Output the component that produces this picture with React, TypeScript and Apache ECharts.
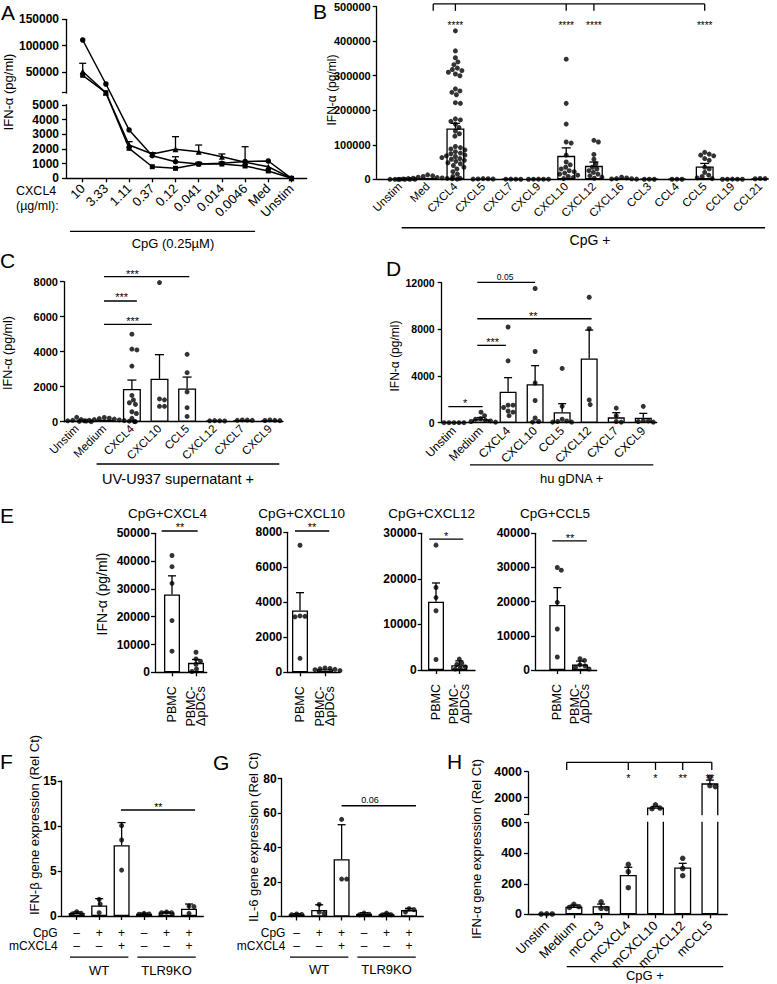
import React, { useEffect, useRef } from 'react';
import * as echarts from 'echarts';

const FONT = '"Liberation Sans", Arial, Helvetica, sans-serif';
const INK = '#000000';
const LW = 1.3;

// ---------------- Panel A ----------------
const aCats = ['10', '3.33', '1.11', '0.37', '0.12', '0.041', '0.014', '0.0046', 'Med', 'Unstim'];
const aDonor1 = [110700, 27200, 3300, 1540, 1130, 975, 1020, 1150, 1180, 0];
const aDonor2 = [51000, 10700, 2270, 1660, 1980, 1815, 1475, 1100, 790, 0];
const aDonor3 = [43700, 10700, 2045, 790, 680, 975, 970, 840, 500, 0];
const aErr1 = [null, null, null, null, 1470, 1080, 1100, null, null, null];
const aErr2 = [66500, null, 2500, 1750, 2840, 2270, 1660, 2155, null, null];
const aYLabels = [0, 1000, 2000, 3000, 4000, 5000, 50000, 100000, 150000];

// ---------------- Panel B ----------------
const bCats = ['Unstim', 'Med', 'CXCL4', 'CXCL5', 'CXCL7', 'CXCL9', 'CXCL10', 'CXCL12', 'CXCL16', 'CCL3', 'CCL4', 'CCL5', 'CCL19', 'CCL21'];
const bMeans = [200, 4000, 147000, 1100, 350, 330, 68000, 39000, 2500, 200, 200, 37000, 300, 1700];
const bErrTop = [null, null, 162000, null, null, null, 91000, 50000, null, null, null, 46000, null, null];
const bDots = [
  [0, 0, 0, 0, 0, 0],
  [13000, 10000, 8000, 6000, 5000, 4000, 3000, 2500, 2000, 1500, 1000, 500, 0],
  [430000, 372000, 352000, 340000, 332000, 322000, 318000, 315000, 310000, 305000, 300000, 262000, 256000, 252000, 245000, 222000, 220000, 175000, 172000, 168000, 160000, 150000, 140000, 132000, 125000, 95000, 92000, 88000, 85000, 80000, 76000, 74000, 70000, 68000, 66000, 63000, 60000, 58000, 55000, 52000, 48000, 45000, 40000, 35000, 30000, 22000, 15000, 8000, 3000],
  [2000, 1500, 1000, 800, 500],
  [500, 400, 300, 200],
  [500, 400, 300, 300, 200],
  [348000, 220000, 160000, 108000, 105000, 70000, 50000, 42000, 35000, 30000, 25000, 22000, 18000, 15000, 12000, 8000, 5000, 2000],
  [113000, 108000, 72000, 58000, 45000, 35000, 30000, 25000, 20000, 15000, 10000, 6000, 3000],
  [6000, 4000, 2000, 1500, 1000, 500],
  [300, 200, 100],
  [300, 200, 100],
  [78000, 73000, 70000, 68000, 60000, 55000, 35000, 30000, 20000, 12000, 8000, 4000, 2000],
  [500, 400, 300, 200, 100],
  [2500, 2000, 1500, 1000],
];

// ---------------- Panel C ----------------
const cCats = ['Unstim', 'Medium', 'CXCL4', 'CXCL10', 'CCL5', 'CXCL12', 'CXCL7', 'CXCL9'];
const cMeans = [70, 110, 1870, 2450, 1900, 50, 90, 80];
const cErrTop = [null, null, 2380, 3830, 2550, null, null, null];
const cDots = [
  [250, 120, 80, 50, 20, 0, 0, 40],
  [240, 200, 180, 150, 120, 100, 80, 60, 50, 30, 20, 10],
  [5000, 4150, 4100, 3180, 1500, 1240, 1085, 990, 570, 470, 190, 0],
  [7950, 1300, 1250, 880, 880],
  [3850, 2800, 1700, 800, 300],
  [60, 50, 50, 40],
  [100, 90, 80, 80],
  [100, 80, 70, 60],
];

// ---------------- Panel D ----------------
const dCats = ['Unstim', 'Medium', 'CXCL4', 'CXCL10', 'CCL5', 'CXCL12', 'CXCL7', 'CXCL9'];
const dMeans = [0, 290, 2650, 3290, 890, 5510, 460, 430];
const dErrTop = [null, 440, 3860, 4890, 1630, 7940, 860, 800];
const dDots = [
  [0, 0, 0, 0, 0],
  [900, 600, 350, 300, 200, 150, 100, 50],
  [8200, 5300, 1500, 1500, 1300, 1000, 900, 600],
  [11500, 6100, 3400, 1900, 400, 100, 50],
  [4650, 1400, 300, 150, 100, 50, 50],
  [10750, 8050, 1950, 1550],
  [1250, 600, 100, 50],
  [1400, 200, 150, 100, 50],
];

// ---------------- Panel E ----------------
const eCats = ['PBMC', 'PBMC-\nΔpDCs'];
const eTitles = ['CpG+CXCL4', 'CpG+CXCL10', 'CpG+CXCL12', 'CpG+CCL5'];
const e1Means = [28000, 3400];
const e1ErrTop = [34700, 4600];
const e1Dots = [[42000, 38000, 32000, 18600, 7600], [7200, 4800, 4000, 2900, 1200, 300]];
const e2Means = [3530, 180];
const e2ErrTop = [4550, null];
const e2Dots = [[7260, 3220, 3200, 3170, 800], [250, 220, 200, 170, 150, 100]];
const e3Means = [15000, 1050];
const e3ErrTop = [19100, 2000];
const e3Dots = [[27400, 18100, 15900, 13000, 2300], [2400, 1500, 1200, 700, 400, 200]];
const e4Means = [19000, 1600];
const e4ErrTop = [24100, 2600];
const e4Dots = [[30000, 29200, 19800, 12000, 3800], [3300, 2800, 1500, 1200, 800, 300]];

// ---------------- Panels F / G ----------------
const cpgSigns = ['–', '+', '+', '–', '+', '+'];
const mcxcl4Signs = ['–', '–', '+', '–', '–', '+'];
const fMeans = [0.33, 1.18, 7.86, 0.24, 0.4, 0.81];
const fErrTop = [0.45, 1.93, 10.38, 0.32, 0.45, 1.33];
const fDots = [[0.3, 0.48, 0.22], [1.85, 1.33, 0.37], [10.04, 8.44, 5.1], [0.19, 0.3, 0.22], [0.37, 0.44, 0.37], [1.1, 1.04, 0.3]];
const gMeans = [1.2, 3.8, 33.2, 1.5, 1.3, 3.7];
const gErrTop = [1.6, 6.8, 53.2, 2.2, 1.9, 4.7];
const gDots = [[1.5, 1.2, 1.0], [7.0, 2.5, 1.8], [56.3, 21.7, 21.7], [2.0, 1.3, 1.0], [2.0, 1.0, 0.9], [4.5, 4.0, 2.6]];

// ---------------- Panel H ----------------
const hCats = ['Unstim', 'Medium', 'mCCL3', 'mCXCL4', 'mCXCL10', 'mCXCL12', 'mCCL5'];
const hMeans = [2, 50, 53, 258, 1250, 307, 3100];
const hErrTop = [null, 60, 67, 308, 1330, 334, 3350];
const hDots = [[3, 2, 2], [65, 50, 45], [82, 39, 37], [327, 279, 174], [1450, 1200, 1150], [367, 300, 253], [3570, 2920, 2850]];
const hYLabels = [0, 200, 400, 600, 2000, 4000];

// ---------------- helpers ----------------
function makeBreak(lowMax: number, lowH: number, gapH: number, upMin: number, upScale: number) {
  return (v: number) =>
    v <= lowMax
      ? (v / lowMax) * lowH
      : v < upMin
      ? lowH + ((v - lowMax) / (upMin - lowMax)) * gapH
      : lowH + gapH + (v - upMin) * upScale;
}

const tfA = makeBreak(5000, 73.3, 12.3, 10700, 52.7 / 100000);
const tfH = makeBreak(600, 91.6, 8.4, 720, 26 / 2000);

// simple beeswarm: spreads overlapping dots sideways (pixel space)
function swarm(vals: number[], cat: number, pxPerUnit: number, pxPerCat: number, dot: number, tf: (v: number) => number) {
  const placed: number[][] = [];
  const res: number[][] = [];
  const order = vals.map((_, i) => i).sort((a, b) => vals[b] - vals[a]);
  for (const i of order) {
    const yv = tf(vals[i]);
    const py = yv * pxPerUnit;
    let off = 0;
    for (let k = 0; k < 140; k++) {
      const cand = k === 0 ? 0 : (k % 2 ? 1 : -1) * Math.ceil(k / 2) * 0.5;
      if (placed.every(([qx, qy]) => Math.hypot(qx - cand, qy - py) >= dot)) {
        off = cand;
        break;
      }
    }
    placed.push([off, py]);
    res.push([cat + off / pxPerCat, yv]);
  }
  return res;
}

type Annot = any;
const L = (x1: number, y1: number, x2: number, y2: number): Annot => ({ t: 'l', x1, y1, x2, y2 });
const S = (x: number, y: number, text: string, size: number, align = 'center'): Annot => ({ t: 's', x, y, text, size, align });
const GAP = (lo: number, hi: number, full: boolean): Annot => ({ t: 'gap', lo, hi, full });

function annotSeries(i: number, annots: Annot[], xMin: number, xMax: number) {
  return {
    type: 'custom',
    xAxisIndex: i,
    yAxisIndex: i,
    z: 6,
    silent: true,
    clip: false,
    data: annots.map(() => [0, 0]),
    renderItem: (params: any, api: any) => {
      const a = annots[params.dataIndex];
      if (a.t === 'l') {
        const p1 = api.coord([a.x1, a.y1]);
        const p2 = api.coord([a.x2, a.y2]);
        return { type: 'line', shape: { x1: p1[0], y1: p1[1], x2: p2[0], y2: p2[1] }, style: { stroke: INK, lineWidth: LW } };
      }
      if (a.t === 's') {
        const p = api.coord([a.x, a.y]);
        const star = /^\*+$/.test(a.text);
        return {
          type: 'text',
          x: p[0],
          y: p[1] + (star ? a.size * 0.22 : 0),
          style: {
            text: a.text,
            fill: INK,
            font: `${a.size}px ${FONT}`,
            align: a.align,
            textAlign: a.align,
            verticalAlign: 'middle',
            textVerticalAlign: 'middle',
          },
        };
      }
      if (a.t === 'gap') {
        const pLo = api.coord([xMin, a.lo]);
        const pHi = api.coord([xMax, a.hi]);
        const x0 = a.full ? pLo[0] - 7 : pLo[0] - 2.5;
        const x1 = a.full ? pHi[0] + 2 : pLo[0] + 2.5;
        return { type: 'rect', shape: { x: x0, y: pHi[1], width: x1 - x0, height: pLo[1] - pHi[1] }, style: { fill: '#ffffff' } };
      }
      return null;
    },
  };
}

function errSeries(i: number, items: number[][], capW: number, z = 3) {
  return {
    type: 'custom',
    xAxisIndex: i,
    yAxisIndex: i,
    z,
    silent: true,
    clip: false,
    encode: { x: 0, y: [1, 2] },
    data: items,
    renderItem: (params: any, api: any) => {
      const x = api.value(0);
      const a = api.coord([x, api.value(1)]);
      const b = api.coord([x, api.value(2)]);
      const hw = capW / 2;
      return {
        type: 'group',
        children: [
          { type: 'line', shape: { x1: a[0], y1: a[1], x2: b[0], y2: b[1] }, style: { stroke: INK, lineWidth: LW } },
          { type: 'line', shape: { x1: b[0] - hw, y1: b[1], x2: b[0] + hw, y2: b[1] }, style: { stroke: INK, lineWidth: LW } },
        ],
      };
    },
  };
}

function axesFor(i: number, p: any) {
  const tf = p.tf || ((v: number) => v);
  const xMin = (p.left - p.c0) / p.step;
  const xMax = (p.right - p.c0) / p.step;
  const yMaxD = tf(p.yMax);
  const top = p.tf ? p.bottom - yMaxD : p.top;
  const height = p.bottom - top;
  const line = { color: INK, width: LW };
  const idxs = Array.from({ length: p.n }, (_, k) => k);
  const grid = { left: p.left, top, width: p.right - p.left, height, containLabel: false, outerBoundsMode: 'none' };
  const xAxis = {
    type: 'value',
    gridIndex: i,
    min: xMin,
    max: xMax,
    axisLine: { show: true, onZero: false, lineStyle: line },
    axisTick: { show: !!p.xTicks, length: 4, customValues: idxs, lineStyle: line },
    axisLabel: p.cats
      ? {
          show: true,
          customValues: idxs,
          formatter: (v: number) => p.cats[Math.round(v)] ?? '',
          rotate: p.rotate,
          fontSize: p.xSize,
          margin: p.xMargin,
          color: INK,
          fontFamily: FONT,
          hideOverlap: false,
          lineHeight: p.xLineHeight || undefined,
        }
      : { show: false },
    splitLine: { show: false },
  };
  const yLabelVals = p.yLabels ? p.yLabels.map(tf) : null;
  const yAxis: any = {
    type: 'value',
    gridIndex: i,
    min: 0,
    max: yMaxD,
    axisLine: { show: true, onZero: false, lineStyle: line },
    axisTick: { show: true, length: 4, lineStyle: line },
    axisLabel: {
      fontSize: p.ySize,
      fontWeight: 'bold',
      color: INK,
      fontFamily: FONT,
      margin: p.yMargin,
      hideOverlap: false,
      formatter: (v: number) => String(Math.round(v * 1000) / 1000),
    },
    splitLine: { show: false },
  };
  if (p.tf) {
    yAxis.axisTick.customValues = [...yLabelVals, ...(p.yTickExtra || [])];
    yAxis.axisLabel.customValues = yLabelVals;
    yAxis.axisLabel.formatter = (v: number) => {
      const h = p.yLabels.find((l: number) => Math.abs(tf(l) - v) < 0.05);
      return h == null ? '' : String(h);
    };
  } else {
    yAxis.interval = p.yInterval;
  }
  return { grid, xAxis, yAxis, xMin, xMax, pxPerUnit: height / yMaxD, tf };
}

function barPanel(i: number, p: any) {
  const ax = axesFor(i, { ...p, n: p.means.length });
  const tf = ax.tf;
  const series: any[] = [];
  series.push({
    type: 'bar',
    xAxisIndex: i,
    yAxisIndex: i,
    silent: true,
    z: 2,
    barWidth: p.barW,
    data: p.means.map((m: number, k: number) => [k, tf(m)]),
    itemStyle: { color: '#ffffff', borderColor: INK, borderWidth: LW },
  });
  const errItems: number[][] = [];
  p.errTop.forEach((e: number | null, k: number) => {
    if (e != null) errItems.push([k, tf(p.means[k]), tf(e)]);
  });
  series.push(errSeries(i, errItems, p.capW));
  const dots: number[][] = [];
  p.dots.forEach((vals: number[], k: number) => {
    swarm(vals, k, ax.pxPerUnit, p.step, p.dot * 0.95, tf).forEach((d) => dots.push(d));
  });
  series.push({
    type: 'scatter',
    xAxisIndex: i,
    yAxisIndex: i,
    silent: true,
    z: 4,
    symbol: 'circle',
    symbolSize: p.dot,
    itemStyle: { color: INK },
    data: dots,
  });
  series.push(annotSeries(i, p.annots, ax.xMin, ax.xMax));
  return { grid: ax.grid, xAxis: ax.xAxis, yAxis: ax.yAxis, series };
}

function buildOption() {
  const grids: any[] = [];
  const xAxes: any[] = [];
  const yAxes: any[] = [];
  const series: any[] = [];
  const add = (r: any) => {
    grids.push(r.grid);
    xAxes.push(r.xAxis);
    yAxes.push(r.yAxis);
    r.series.forEach((s: any) => series.push(s));
  };

  // ---- A (line panel, broken axis) ----
  {
    const i = 0;
    const p = {
      left: 66, right: 306.7, bottom: 178.3, c0: 82.7, step: 23.2, yMax: 150000, tf: tfA,
      yLabels: aYLabels, yTickExtra: [tfA(10700)], cats: aCats, xTicks: true, rotate: 45, xSize: 13, xMargin: 8,
      ySize: 12, yMargin: 7, n: aCats.length,
    };
    const ax = axesFor(i, p);
    const mk = (vals: number[], symbol: string, size: number) => ({
      type: 'line',
      xAxisIndex: i,
      yAxisIndex: i,
      silent: true,
      z: 3,
      clip: false,
      symbol,
      symbolSize: size,
      showAllSymbol: true,
      data: vals.map((v, k) => [k, tfA(v)]),
      lineStyle: { color: INK, width: 1.5 },
      itemStyle: { color: INK },
    });
    const errItems: number[][] = [];
    aErr1.forEach((e, k) => { if (e != null) errItems.push([k, tfA(aDonor1[k]), tfA(e)]); });
    aErr2.forEach((e, k) => { if (e != null) errItems.push([k, tfA(aDonor2[k]), tfA(e)]); });
    add({
      grid: ax.grid,
      xAxis: ax.xAxis,
      yAxis: ax.yAxis,
      series: [
        mk(aDonor1, 'circle', 5.5),
        mk(aDonor2, 'triangle', 6),
        mk(aDonor3, 'rect', 5),
        errSeries(i, errItems, 7),
        annotSeries(i, [
          L(-0.547, -53, 7.43, -53),
          S(3.89, -64.7, 'CpG (0.25µM)', 13),
          GAP(73.3 + 0.9, 85.6 - 0.9, false),
        ], ax.xMin, ax.xMax),
      ],
    });
  }

  // ---- B ----
  const bBr = 508000, bTk = 488000, bSt = 452000;
  add(barPanel(1, {
    left: 376.7, right: 766.7, top: 6.7, bottom: 179.3, c0: 400, step: 27.7, yMax: 500000, yInterval: 100000,
    cats: bCats, xTicks: false, rotate: 45, xSize: 11.5, xMargin: 5, ySize: 11, yMargin: 6,
    means: bMeans, errTop: bErrTop, dots: bDots, barW: 18, capW: 9, dot: 5,
    annots: [
      L(1.2, bBr, 11, bBr), L(1.2, bBr, 1.2, bTk), L(2, bBr, 2, bTk), L(6, bBr, 6, bTk), L(7, bBr, 7, bTk), L(11, bBr, 11, bTk),
      S(2, bSt, '****', 10), S(6, bSt, '****', 10), S(7, bSt, '****', 10), S(11, bSt, '****', 10),
      L(0.06, -140290, 13.18, -140290), S(6.86, -175900, 'CpG +', 14),
    ],
  }));

  // ---- C ----
  add(barPanel(2, {
    left: 64, right: 283, top: 281.7, bottom: 421.7, c0: 76.7, step: 27.6, yMax: 8000, yInterval: 2000,
    cats: cCats, xTicks: false, rotate: 45, xSize: 11.5, xMargin: 5, ySize: 11, yMargin: 6,
    means: cMeans, errTop: cErrTop, dots: cDots, barW: 18, capW: 9, dot: 5,
    annots: [
      L(0.99, 8286, 4.08, 8286), S(2.02, 8571, '***', 11),
      L(0.99, 6897, 2.18, 6897), S(1.63, 7240, '***', 11),
      L(0.99, 5566, 2.72, 5566), S(2.03, 5869, '***', 11),
      L(0.72, -2417, 7.34, -2417), S(3.67, -3274, 'UV-U937 supernatant +', 14.5),
    ],
  }));

  // ---- D ----
  add(barPanel(3, {
    left: 441.7, right: 656.7, top: 282.7, bottom: 422.7, c0: 454, step: 27.04, yMax: 12000, yInterval: 4000,
    cats: dCats, xTicks: false, rotate: 45, xSize: 12, xMargin: 6, ySize: 10.5, yMargin: 7,
    means: dMeans, errTop: dErrTop, dots: dDots, barW: 17, capW: 8, dot: 5,
    annots: [
      L(0.86, 12026, 3.0, 12026), S(1.89, 12505, '0.05', 8.5),
      L(0.86, 8908, 5.09, 8908), S(2.93, 9370, '**', 11),
      L(0.86, 6630, 1.92, 6630), S(1.43, 7143, '***', 11),
      L(-0.21, 1370, 1.06, 1370), S(0.41, 1884, '*', 11),
      L(0.59, -3623, 7.37, -3623), S(4.35, -4762, 'hu gDNA +', 13),
    ],
  }));

  // ---- E ----
  const eCommon = { cats: eCats, xTicks: true, rotate: 90, xSize: 12.5, xMargin: 14, xLineHeight: 10.5, ySize: 12, yMargin: 5, barW: 16, capW: 8, dot: 5 };
  add(barPanel(4, {
    ...eCommon, left: 155, right: 206.7, top: 533.3, bottom: 672.3, c0: 172, step: 24, yMax: 50000, yInterval: 10000,
    means: e1Means, errTop: e1ErrTop, dots: e1Dots,
    annots: [L(-0.43, 50827, 1.07, 50827), S(0.33, 52985, '**', 11)],
  }));
  add(barPanel(5, {
    ...eCommon, left: 287.3, right: 340, top: 532.3, bottom: 672.3, c0: 300, step: 25, yMax: 8000, yInterval: 2000,
    means: e2Means, errTop: e2ErrTop, dots: e2Dots,
    annots: [L(-0.2, 8074, 1.17, 8074), S(0.48, 8417, '**', 11)],
  }));
  add(barPanel(6, {
    ...eCommon, left: 421.7, right: 475, top: 533.3, bottom: 670, c0: 436, step: 23.3, yMax: 30000, yInterval: 10000,
    means: e3Means, errTop: e3ErrTop, dots: e3Dots,
    annots: [L(-0.29, 28725, 1.17, 28725), S(0.43, 30044, '*', 11)],
  }));
  add(barPanel(7, {
    ...eCommon, left: 535, right: 596.7, top: 533.3, bottom: 670, c0: 557.3, step: 22.7, yMax: 40000, yInterval: 10000,
    means: e4Means, errTop: e4ErrTop, dots: e4Dots,
    annots: [L(-0.22, 37807, 1.3, 37807), S(0.56, 39474, '**', 11)],
  }));

  // ---- F ----
  const rowAnnots = (rowY: number[], labelX: number) => {
    const out: Annot[] = [S(labelX, rowY[0], 'CpG', 12, 'right'), S(labelX, rowY[1], 'mCXCL4', 12, 'right')];
    cpgSigns.forEach((s, k) => out.push(S(k, rowY[0], s, 12)));
    mcxcl4Signs.forEach((s, k) => out.push(S(k, rowY[1], s, 12)));
    out.push(L(-0.3, rowY[2], 2.3, rowY[2]), L(2.7, rowY[2], 5.3, rowY[2]));
    out.push(S(1, rowY[3], 'WT', 13), S(4, rowY[3], 'TLR9KO', 13));
    return out;
  };
  add(barPanel(8, {
    left: 61.7, right: 203.3, top: 781, bottom: 916, c0: 76.7, step: 22.46, yMax: 15, yInterval: 5,
    cats: null, xTicks: true, ySize: 12, yMargin: 5, means: fMeans, errTop: fErrTop, dots: fDots, barW: 16, capW: 8, dot: 5,
    annots: [L(1.97, 11.78, 5.27, 11.78), S(3.63, 12.33, '**', 10.5), ...rowAnnots([-1.89, -3.33, -4.56, -6.0], -0.85)],
  }));

  // ---- G ----
  add(barPanel(9, {
    left: 281.7, right: 423.3, top: 778.5, bottom: 916.5, c0: 296.7, step: 22.46, yMax: 80, yInterval: 20,
    cats: null, xTicks: true, ySize: 12, yMargin: 5, means: gMeans, errTop: gErrTop, dots: gDots, barW: 16, capW: 8, dot: 5,
    annots: [L(2.0, 64.2, 5.31, 64.2), S(3.26, 67.5, '0.06', 9), ...rowAnnots([-9.57, -17.1, -23.5, -31.0], -0.5)],
  }));

  // ---- H (broken axis) ----
  add(barPanel(10, {
    left: 528, right: 727.3, bottom: 914.3, c0: 546.7, step: 27.2, yMax: 4000, tf: tfH, yLabels: hYLabels, yTickExtra: [tfH(720)],
    cats: hCats, xTicks: true, rotate: 45, xSize: 13, xMargin: 9, ySize: 12.5, yMargin: 6,
    means: hMeans, errTop: hErrTop, dots: hDots, barW: 17, capW: 8, dot: 5.5,
    annots: [
      L(0.735, 152, 6.07, 152), L(0.735, 152, 0.735, 144.3), L(3, 152, 3, 144.3), L(4, 152, 4, 144.3), L(5, 152, 5, 144.3), L(6.07, 152, 6.07, 144.3),
      S(3, 138.3, '*', 11), S(4, 138.3, '*', 11), S(5, 138.3, '**', 11), S(6, 138.3, '**', 11),
      L(0.735, -52.4, 6.49, -52.4), S(3.61, -60.7, 'CpG +', 13),
      GAP(91.6 + 0.9, 100 - 0.9, true),
    ],
  }));

  // ---- free texts ----
  const txt = (text: string, x: number, y: number, size: number, align = 'center', rotation = 0) => ({
    type: 'text',
    x,
    y,
    rotation,
    silent: true,
    style: { text, fill: INK, font: `${size}px ${FONT}`, align, textAlign: align, verticalAlign: 'middle', textVerticalAlign: 'middle' },
  });
  const R = Math.PI / 2;
  const graphic = [
    txt('A', 1, 12.5, 21, 'left'),
    txt('B', 313, 11.5, 21, 'left'),
    txt('C', 0, 260, 21, 'left'),
    txt('D', 386, 268, 21, 'left'),
    txt('E', 0, 515, 21, 'left'),
    txt('F', 0, 761, 21, 'left'),
    txt('G', 213, 762, 21, 'left'),
    txt('H', 447, 761, 21, 'left'),
    txt('IFN-α (pg/ml)', 8, 92, 13, 'center', R),
    txt('IFN-α (pg/ml)', 331.7, 90, 12, 'center', R),
    txt('IFN-α (pg/ml)', 8, 353, 12.5, 'center', R),
    txt('IFN-α (pg/ml)', 395, 356, 12, 'center', R),
    txt('IFN-α (pg/ml)', 101.7, 594, 14, 'center', R),
    txt('IFN-β gene expression (Rel Ct)', 34, 825, 13, 'center', R),
    txt('IL-6 gene expression (Rel Ct)', 253, 837, 13, 'center', R),
    txt('IFN-α gene expression (Rel Ct)', 476.7, 849, 13, 'center', R),
    txt(eTitles[0], 167.5, 513, 13.5),
    txt(eTitles[1], 301.7, 513, 13.5),
    txt(eTitles[2], 431.7, 513, 13.5),
    txt(eTitles[3], 555, 513, 13.5),
    txt('CXCL4', 16, 191, 12.5, 'left'),
    txt('(µg/ml):', 16, 206, 12.5, 'left'),
  ];

  return {
    animation: false,
    backgroundColor: '#ffffff',
    textStyle: { fontFamily: FONT, color: INK },
    grid: grids,
    xAxis: xAxes,
    yAxis: yAxes,
    series,
    graphic,
  };
}

export default function App() {
  const ref = useRef<HTMLDivElement>(null);
  useEffect(() => {
    if (!ref.current) return;
    const chart = echarts.init(ref.current, null, { renderer: 'svg' });
    chart.setOption(buildOption() as any);
    return () => chart.dispose();
  }, []);
  return <div ref={ref} style={{ position: 'absolute', left: 0, top: 0, width: 777, height: 984, background: '#fff' }} />;
}
